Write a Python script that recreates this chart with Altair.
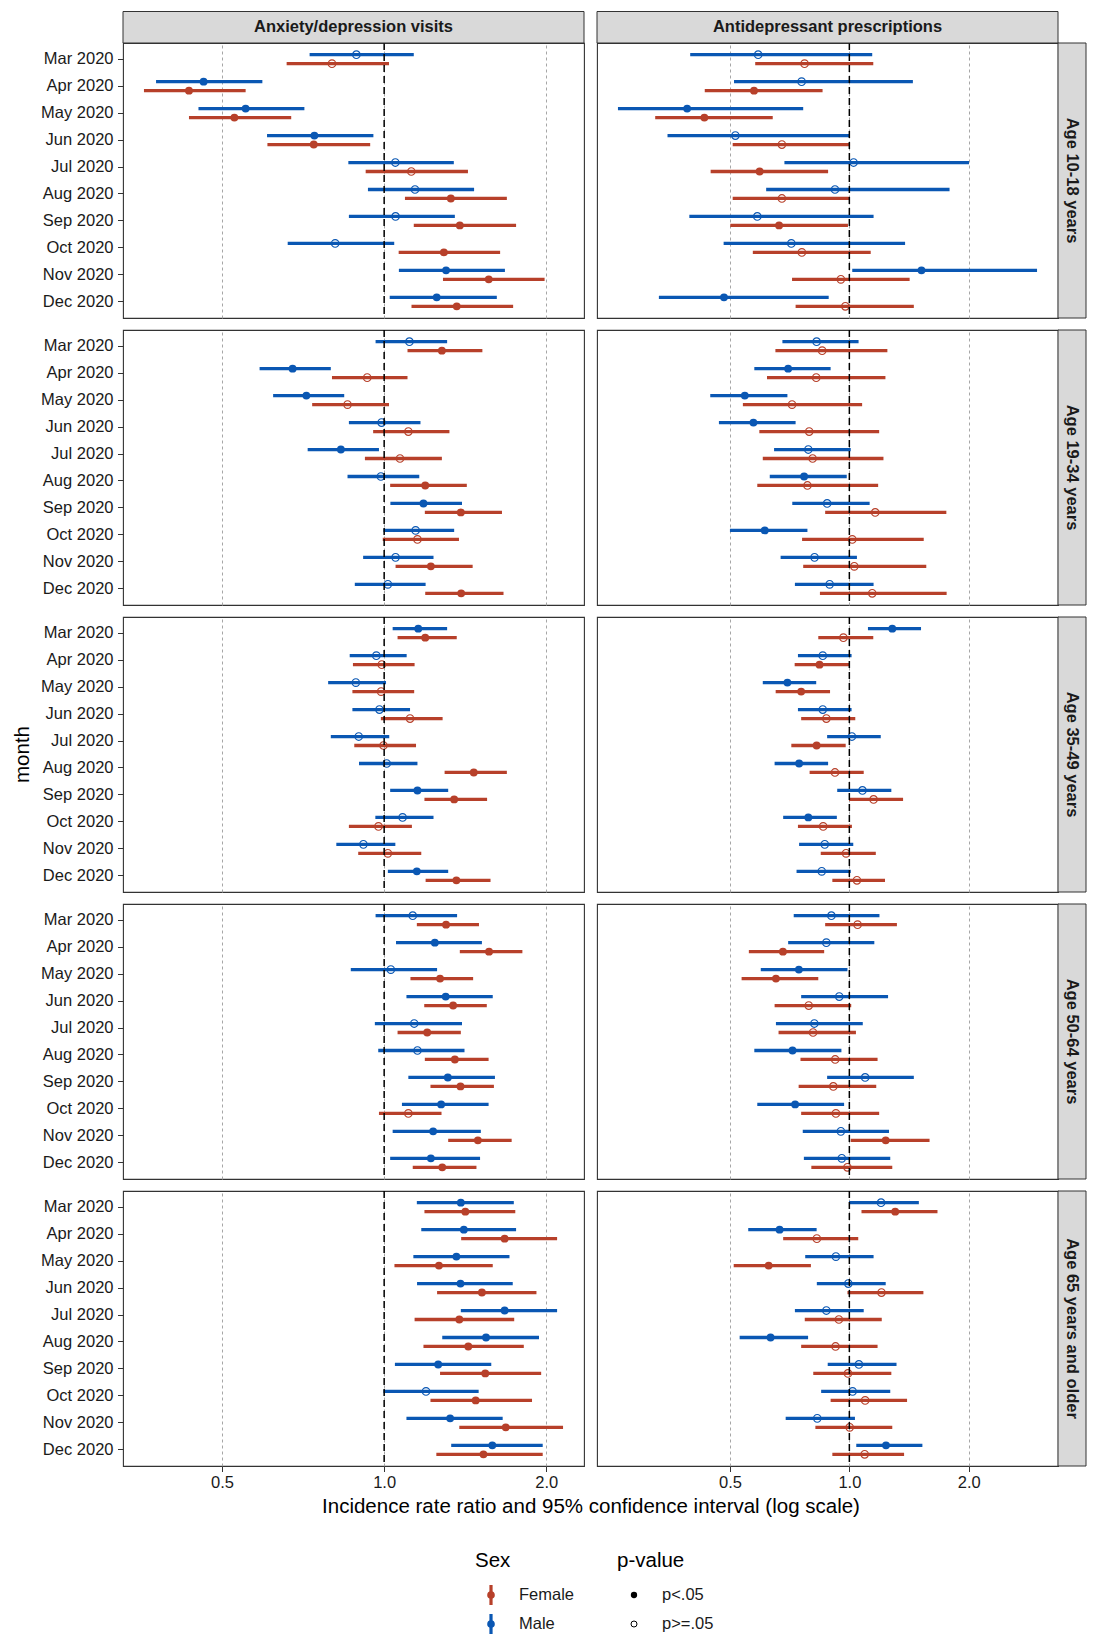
import altair as alt
import numpy as np
import pandas as pd

# ---------------- categories / labels ----------------
MONTHS = ["Mar 2020", "Apr 2020", "May 2020", "Jun 2020", "Jul 2020",
          "Aug 2020", "Sep 2020", "Oct 2020", "Nov 2020", "Dec 2020"]
OUTCOMES = ["Anxiety/depression visits", "Antidepressant prescriptions"]
AGES = ["Age 10-18 years", "Age 19-34 years", "Age 35-49 years",
        "Age 50-64 years", "Age 65 years and older"]
SEXES = ["Female", "Male"]
SEX_COLORS = ["#B7402A", "#0A57B3"]
X_TICKS = [0.5, 1.0, 2.0]
X_TITLE = "Incidence rate ratio and 95% confidence interval (log scale)"
Y_TITLE = "month"
LEGEND_TITLES = ["Sex", "p-value"]
P_LABELS = ["p<.05", "p>=.05"]

# ---------------- data: Anxiety/depression visits ----------------
anx_10_18_m_est = [0.888, 0.462, 0.553, 0.742, 1.049, 1.141, 1.050, 0.811, 1.303, 1.252]
anx_10_18_m_lo  = [0.727, 0.377, 0.452, 0.606, 0.858, 0.933, 0.860, 0.662, 1.065, 1.024]
anx_10_18_m_hi  = [1.135, 0.594, 0.711, 0.955, 1.347, 1.469, 1.353, 1.044, 1.676, 1.619]
anx_10_18_m_sig = [0, 1, 1, 1, 0, 0, 0, 0, 1, 1]
anx_10_18_f_est = [0.800, 0.434, 0.527, 0.740, 1.123, 1.330, 1.382, 1.291, 1.564, 1.364]
anx_10_18_f_lo  = [0.659, 0.358, 0.434, 0.607, 0.924, 1.093, 1.135, 1.064, 1.286, 1.124]
anx_10_18_f_hi  = [1.021, 0.553, 0.672, 0.942, 1.431, 1.690, 1.758, 1.642, 1.986, 1.736]
anx_10_18_f_sig = [0, 1, 1, 1, 0, 1, 1, 1, 1, 1]

anx_19_34_m_est = [1.114, 0.676, 0.717, 0.989, 0.831, 0.986, 1.183, 1.144, 1.050, 1.016]
anx_19_34_m_lo  = [0.964, 0.587, 0.622, 0.860, 0.721, 0.855, 1.027, 0.997, 0.914, 0.882]
anx_19_34_m_hi  = [1.309, 0.796, 0.843, 1.168, 0.978, 1.162, 1.395, 1.349, 1.235, 1.194]
anx_19_34_m_sig = [0, 1, 1, 0, 1, 0, 1, 0, 0, 0]
anx_19_34_f_est = [1.280, 0.930, 0.855, 1.109, 1.070, 1.192, 1.388, 1.153, 1.221, 1.390]
anx_19_34_f_lo  = [1.105, 0.800, 0.735, 0.954, 0.921, 1.026, 1.190, 0.994, 1.050, 1.192]
anx_19_34_f_hi  = [1.522, 1.105, 1.021, 1.322, 1.280, 1.424, 1.655, 1.377, 1.460, 1.666]
anx_19_34_f_sig = [1, 0, 0, 0, 0, 1, 1, 0, 1, 1]

anx_35_49_m_est = [1.157, 0.967, 0.886, 0.980, 0.897, 1.011, 1.153, 1.082, 0.915, 1.150]
anx_35_49_m_lo  = [1.037, 0.863, 0.787, 0.873, 0.796, 0.898, 1.026, 0.963, 0.815, 1.016]
anx_35_49_m_hi  = [1.309, 1.101, 1.008, 1.117, 1.022, 1.153, 1.315, 1.235, 1.049, 1.315]
anx_35_49_m_sig = [1, 0, 0, 0, 0, 0, 1, 0, 0, 1]
anx_35_49_f_est = [1.192, 0.990, 0.987, 1.117, 0.997, 1.467, 1.349, 0.976, 1.016, 1.362]
anx_35_49_f_lo  = [1.059, 0.875, 0.873, 0.986, 0.880, 1.295, 1.188, 0.860, 0.895, 1.194]
anx_35_49_f_hi  = [1.364, 1.139, 1.137, 1.284, 1.146, 1.690, 1.553, 1.126, 1.172, 1.576]
anx_35_49_f_sig = [1, 0, 0, 0, 0, 1, 1, 0, 0, 1]

anx_50_64_m_est = [1.130, 1.242, 1.029, 1.301, 1.137, 1.153, 1.313, 1.276, 1.233, 1.221]
anx_50_64_m_lo  = [0.964, 1.052, 0.867, 1.100, 0.961, 0.975, 1.109, 1.079, 1.037, 1.026]
anx_50_64_m_hi  = [1.366, 1.519, 1.254, 1.591, 1.395, 1.410, 1.606, 1.563, 1.512, 1.507]
anx_50_64_m_sig = [0, 1, 0, 1, 0, 0, 1, 1, 1, 1]
anx_50_64_f_est = [1.303, 1.566, 1.270, 1.343, 1.202, 1.353, 1.386, 1.109, 1.493, 1.282]
anx_50_64_f_lo  = [1.150, 1.382, 1.119, 1.187, 1.059, 1.190, 1.219, 0.978, 1.315, 1.130]
anx_50_64_f_hi  = [1.500, 1.806, 1.463, 1.551, 1.388, 1.563, 1.599, 1.278, 1.725, 1.484]
anx_50_64_f_sig = [1, 1, 1, 1, 1, 1, 1, 0, 1, 1]

anx_65p_m_est = [1.388, 1.406, 1.362, 1.386, 1.674, 1.546, 1.260, 1.196, 1.326, 1.588]
anx_65p_m_lo  = [1.150, 1.172, 1.133, 1.151, 1.388, 1.282, 1.047, 0.997, 1.100, 1.332]
anx_65p_m_hi  = [1.741, 1.758, 1.709, 1.733, 2.095, 1.939, 1.581, 1.498, 1.660, 1.970]
anx_65p_m_sig = [1, 1, 1, 1, 1, 1, 1, 0, 1, 1]
anx_65p_f_est = [1.415, 1.674, 1.264, 1.519, 1.379, 1.433, 1.541, 1.479, 1.682, 1.529]
anx_65p_f_lo  = [1.188, 1.390, 1.045, 1.254, 1.139, 1.183, 1.270, 1.219, 1.379, 1.250]
anx_65p_f_hi  = [1.752, 2.095, 1.591, 1.918, 1.744, 1.817, 1.957, 1.882, 2.149, 1.970]
anx_65p_f_sig = [1, 1, 1, 1, 1, 1, 1, 1, 1, 1]

# ---------------- data: Antidepressant prescriptions ----------------
adp_10_18_m_est = [0.589, 0.758, 0.390, 0.516, 1.025, 0.920, 0.586, 0.714, 1.520, 0.483]
adp_10_18_m_lo  = [0.397, 0.512, 0.261, 0.348, 0.686, 0.617, 0.395, 0.482, 1.017, 0.331]
adp_10_18_m_hi  = [1.142, 1.446, 0.765, 1.003, 2.003, 1.789, 1.151, 1.382, 2.973, 0.887]
adp_10_18_m_sig = [0, 0, 1, 0, 0, 0, 0, 0, 1, 1]
adp_10_18_f_est = [0.771, 0.575, 0.431, 0.676, 0.594, 0.676, 0.665, 0.759, 0.952, 0.977]
adp_10_18_f_lo  = [0.579, 0.432, 0.324, 0.508, 0.447, 0.508, 0.501, 0.571, 0.717, 0.732]
adp_10_18_f_hi  = [1.149, 0.856, 0.641, 1.004, 0.884, 1.002, 0.992, 1.132, 1.419, 1.454]
adp_10_18_f_sig = [0, 1, 1, 0, 1, 0, 1, 0, 0, 0]

adp_19_34_m_est = [0.827, 0.701, 0.545, 0.573, 0.788, 0.769, 0.879, 0.612, 0.817, 0.892]
adp_19_34_m_lo  = [0.678, 0.576, 0.446, 0.469, 0.646, 0.630, 0.718, 0.500, 0.671, 0.729]
adp_19_34_m_hi  = [1.055, 0.897, 0.698, 0.732, 1.008, 0.985, 1.125, 0.784, 1.045, 1.151]
adp_19_34_m_sig = [0, 1, 1, 1, 0, 1, 0, 1, 0, 0]
adp_19_34_f_est = [0.854, 0.825, 0.717, 0.792, 0.808, 0.784, 1.162, 1.017, 1.029, 1.142]
adp_19_34_f_lo  = [0.651, 0.620, 0.539, 0.593, 0.605, 0.586, 0.869, 0.760, 0.765, 0.843]
adp_19_34_f_hi  = [1.247, 1.233, 1.077, 1.189, 1.219, 1.182, 1.756, 1.540, 1.563, 1.759]
adp_19_34_f_sig = [0, 0, 0, 0, 0, 0, 0, 0, 0, 0]

adp_35_49_m_est = [1.283, 0.857, 0.698, 0.857, 1.015, 0.747, 1.079, 0.788, 0.867, 0.852]
adp_35_49_m_lo  = [1.114, 0.742, 0.605, 0.742, 0.879, 0.648, 0.932, 0.681, 0.747, 0.736]
adp_35_49_m_hi  = [1.516, 1.013, 0.825, 1.013, 1.200, 0.884, 1.276, 0.930, 1.023, 1.008]
adp_35_49_m_sig = [1, 0, 1, 0, 0, 1, 0, 1, 0, 0]
adp_35_49_f_est = [0.966, 0.841, 0.756, 0.875, 0.827, 0.920, 1.151, 0.859, 0.981, 1.045]
adp_35_49_f_lo  = [0.835, 0.728, 0.652, 0.756, 0.714, 0.794, 0.998, 0.742, 0.847, 0.906]
adp_35_49_f_hi  = [1.149, 0.998, 0.894, 1.035, 0.979, 1.087, 1.366, 1.015, 1.166, 1.230]
adp_35_49_f_sig = [0, 1, 1, 0, 1, 0, 0, 0, 0, 0]

adp_50_64_m_est = [0.901, 0.875, 0.746, 0.943, 0.816, 0.719, 1.096, 0.730, 0.952, 0.957]
adp_50_64_m_lo  = [0.724, 0.701, 0.598, 0.756, 0.653, 0.576, 0.879, 0.586, 0.763, 0.768]
adp_50_64_m_hi  = [1.191, 1.156, 0.989, 1.252, 1.081, 0.955, 1.454, 0.970, 1.259, 1.268]
adp_50_64_m_sig = [0, 0, 1, 0, 0, 1, 0, 1, 0, 0]
adp_50_64_f_est = [1.049, 0.680, 0.653, 0.790, 0.810, 0.921, 0.911, 0.925, 1.235, 0.989]
adp_50_64_f_lo  = [0.869, 0.558, 0.535, 0.648, 0.663, 0.753, 0.745, 0.756, 1.008, 0.802]
adp_50_64_f_hi  = [1.318, 0.864, 0.835, 1.011, 1.039, 1.178, 1.169, 1.189, 1.593, 1.283]
adp_50_64_f_sig = [0, 1, 1, 0, 0, 0, 0, 0, 1, 0]

adp_65p_m_est = [1.202, 0.667, 0.925, 0.994, 0.875, 0.633, 1.057, 1.019, 0.830, 1.237]
adp_65p_m_lo  = [0.998, 0.556, 0.774, 0.828, 0.729, 0.529, 0.882, 0.849, 0.691, 1.041]
adp_65p_m_hi  = [1.497, 0.827, 1.151, 1.235, 1.087, 0.787, 1.315, 1.268, 1.033, 1.528]
adp_65p_m_sig = [0, 1, 0, 0, 0, 1, 0, 0, 0, 1]
adp_65p_f_est = [1.305, 0.828, 0.626, 1.205, 0.941, 0.923, 0.992, 1.096, 1.002, 1.093]
adp_65p_f_lo  = [1.073, 0.681, 0.511, 0.989, 0.772, 0.756, 0.811, 0.897, 0.821, 0.906]
adp_65p_f_hi  = [1.668, 1.053, 0.800, 1.537, 1.207, 1.178, 1.276, 1.398, 1.283, 1.374]
adp_65p_f_sig = [1, 0, 1, 0, 0, 0, 0, 0, 0, 0]

# ---------------- assemble long table ----------------
OUT_KEYS = ["anx", "adp"]
AGE_KEYS = ["10_18", "19_34", "35_49", "50_64", "65p"]
SEX_KEYS = {"Female": "f", "Male": "m"}
G = globals()
records = []
for oi, ok in enumerate(OUT_KEYS):
    for ai, ak in enumerate(AGE_KEYS):
        for sex in SEXES:
            sk = SEX_KEYS[sex]
            est = G[f"{ok}_{ak}_{sk}_est"]
            lo = G[f"{ok}_{ak}_{sk}_lo"]
            hi = G[f"{ok}_{ak}_{sk}_hi"]
            sig = G[f"{ok}_{ak}_{sk}_sig"]
            for mi, m in enumerate(MONTHS):
                records.append(dict(outcome=OUTCOMES[oi], age=AGES[ai], sex=sex, month=m,
                                    est=est[mi], lo=lo[mi], hi=hi[mi], sig=sig[mi]))
df = pd.DataFrame(records)


def log_domain(sub):
    a = np.log2(sub["lo"].min())
    b = np.log2(sub["hi"].max())
    pad = 0.05 * (b - a)
    return [float(2 ** (a - pad)), float(2 ** (b + pad))]


DOMAINS = [log_domain(df[df.outcome == o]) for o in OUTCOMES]

# ---------------- styling ----------------
W, H = 461, 275
GAP_X = 13
STRIP_H = 31.5
STRIP_W = 28
BORDER = "#333333"
STRIP_FILL = "#D9D9D9"
GRID = "#A6A6A6"
TXT = "#1A1A1A"
FONT = "Liberation Sans"

# legend layout (pixels relative to the bottom-left panel)
LEG_TITLE_Y = 370
LEG_ROW_Y = [404, 433]
LEG_SEX_X = 352
LEG_P_X = 494

color = alt.Color("sex:N", scale=alt.Scale(domain=SEXES, range=SEX_COLORS), legend=None)


def legend_layers():
    one = pd.DataFrame({"k": [0]})
    out = []
    for title, lx in zip(LEGEND_TITLES, [LEG_SEX_X, LEG_P_X]):
        out.append(alt.Chart(one).mark_text(align="left", baseline="middle", fontSize=20.5, color="black").encode(
            x=alt.value(lx), y=alt.value(LEG_TITLE_Y), text=alt.value(title)))
    for i, sex in enumerate(SEXES):
        yy = LEG_ROW_Y[i]
        out.append(alt.Chart(one).mark_rule(strokeWidth=3.2, color=SEX_COLORS[i]).encode(
            x=alt.value(LEG_SEX_X + 16), y=alt.value(yy - 10), y2=alt.value(yy + 10)))
        out.append(alt.Chart(one).mark_circle(size=58, opacity=1, color=SEX_COLORS[i]).encode(
            x=alt.value(LEG_SEX_X + 16), y=alt.value(yy)))
        out.append(alt.Chart(one).mark_text(align="left", baseline="middle", fontSize=16.5, color=TXT).encode(
            x=alt.value(LEG_SEX_X + 44), y=alt.value(yy), text=alt.value(sex)))
    for i, lab in enumerate(P_LABELS):
        yy = LEG_ROW_Y[i]
        if i == 0:
            out.append(alt.Chart(one).mark_circle(size=40, opacity=1, color="black").encode(
                x=alt.value(LEG_P_X + 17), y=alt.value(yy)))
        else:
            out.append(alt.Chart(one).mark_point(shape="circle", filled=False, size=36, strokeWidth=1,
                                                 opacity=1, color="black").encode(
                x=alt.value(LEG_P_X + 17), y=alt.value(yy)))
        out.append(alt.Chart(one).mark_text(align="left", baseline="middle", fontSize=16.5, color=TXT).encode(
            x=alt.value(LEG_P_X + 45), y=alt.value(yy), text=alt.value(lab)))
    return out


def panel(oi, ai):
    sub = df[(df.outcome == OUTCOMES[oi]) & (df.age == AGES[ai])]
    bottom = ai == len(AGES) - 1
    left = oi == 0
    xs = alt.Scale(type="log", domain=DOMAINS[oi], nice=False, zero=False)
    if bottom:
        akw = dict(values=X_TICKS, format=".1f", labelFontSize=16.5, labelColor=TXT,
                   labelPadding=3, tickSize=5.5, tickColor=BORDER, domain=False,
                   grid=True, gridColor=GRID, gridDash=[3, 3], gridWidth=1, labelFlush=False)
        if left:
            akw.update(titleFontSize=20.5, titleFontWeight="normal", titleColor="black",
                       titlePadding=5, titleX=W + GAP_X / 2, titleAlign="center")
        xaxis = alt.Axis(**akw)
    else:
        xaxis = alt.Axis(values=X_TICKS, labels=False, ticks=False, domain=False,
                         grid=True, gridColor=GRID, gridDash=[3, 3], gridWidth=1)
    xtitle = X_TITLE if (bottom and left) else None

    def xenc(field):
        return alt.X(f"{field}:Q", scale=xs, axis=xaxis, title=xtitle)

    yaxis = alt.Axis(labelFontSize=16.5, labelColor=TXT, labelPadding=4.5, tickSize=5.5,
                     tickColor=BORDER, domain=False, grid=False) if left else None
    y = alt.Y("month:N", sort=MONTHS,
              scale=alt.Scale(domain=MONTHS, paddingInner=0, paddingOuter=0.1),
              axis=yaxis, title=None)
    yo = alt.YOffset("sex:N", scale=alt.Scale(type="point", domain=["Male", "Female"], padding=1.43))

    base = alt.Chart(sub)
    bars = base.mark_rule(strokeWidth=3.3).encode(x=xenc("lo"), x2="hi:Q", y=y, yOffset=yo, color=color)
    pts_open = base.transform_filter(alt.datum.sig == 0).mark_point(
        shape="circle", filled=False, size=58, strokeWidth=1.1, opacity=1
    ).encode(x=xenc("est"), y=y, yOffset=yo, color=color)
    pts_fill = base.transform_filter(alt.datum.sig == 1).mark_circle(size=62, opacity=1).encode(
        x=xenc("est"), y=y, yOffset=yo, color=color)
    vline = alt.Chart(pd.DataFrame({"ref": [1.0]})).mark_rule(
        color="black", strokeWidth=1.5, strokeDash=[7, 4]).encode(x=xenc("ref"))

    layers = [bars, pts_open, pts_fill, vline]

    if ai == 0:
        sdf = pd.DataFrame({"label": [OUTCOMES[oi]]})
        layers.append(alt.Chart(sdf).mark_rect(fill=STRIP_FILL, stroke=BORDER, strokeWidth=1).encode(
            x=alt.value(0), x2=alt.value(W), y=alt.value(-STRIP_H), y2=alt.value(0)))
        layers.append(alt.Chart(sdf).mark_text(fontSize=16.5, fontWeight="bold", color=TXT).encode(
            x=alt.value(W / 2), y=alt.value(-STRIP_H / 2), text="label:N"))
    if not left:
        rdf = pd.DataFrame({"label": [AGES[ai]]})
        layers.append(alt.Chart(rdf).mark_rect(fill=STRIP_FILL, stroke=BORDER, strokeWidth=1).encode(
            x=alt.value(W), x2=alt.value(W + STRIP_W), y=alt.value(0), y2=alt.value(H)))
        layers.append(alt.Chart(rdf).mark_text(fontSize=16.5, fontWeight="bold", color=TXT, angle=90).encode(
            x=alt.value(W + STRIP_W / 2), y=alt.value(H / 2), text="label:N"))
    if left and ai == 2:
        tdf = pd.DataFrame({"t": [Y_TITLE]})
        layers.append(alt.Chart(tdf).mark_text(fontSize=20.5, color="black", angle=270).encode(
            x=alt.value(-100), y=alt.value(H / 2), text="t:N"))
    if left and bottom:
        layers.extend(legend_layers())

    return alt.layer(*layers).properties(
        width=W, height=H, view=alt.ViewBackground(stroke=BORDER, strokeWidth=1.1))


panels = [panel(oi, ai) for ai in range(len(AGES)) for oi in range(len(OUTCOMES))]
chart = alt.concat(*panels, columns=2, spacing={"row": 12, "column": GAP_X}, bounds="flush").resolve_scale(
    x="independent", y="independent"
).properties(
    padding={"left": 4, "top": 2, "right": 0, "bottom": 0}
).configure(font=FONT).configure_view(stroke="transparent")

chart.save("out.html", embed_options={"renderer": "svg", "actions": False})
